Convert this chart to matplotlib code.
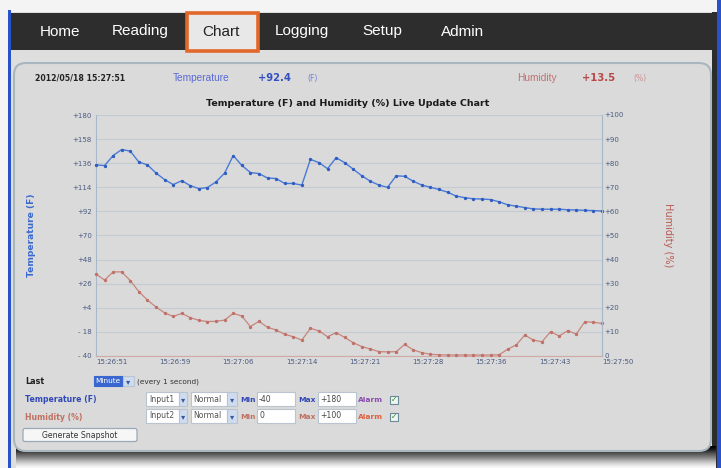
import matplotlib
matplotlib.use("Agg")
import matplotlib.pyplot as plt
import numpy as np
from matplotlib.patches import Rectangle, FancyBboxPatch

# ---------------- data ----------------
time_labels = ["15:26:51", "15:26:59", "15:27:06", "15:27:14", "15:27:21",
               "15:27:28", "15:27:36", "15:27:43", "15:27:50"]
temp_values = [134.5, 133.8, 143.0, 148.5, 147.0, 137.0, 134.5, 127.0, 121.0, 116.5,
               120.0, 115.5, 112.8, 113.8, 119.0, 127.0, 143.0, 134.0, 127.5, 126.5,
               122.5, 122.0, 117.5, 117.5, 116.0, 139.5, 136.5, 131.0, 141.0, 136.5,
               130.5, 124.5, 119.5, 116.0, 114.0, 124.5, 124.0, 119.5, 116.0, 114.0,
               112.0, 109.5, 106.0, 104.5, 103.5, 103.3, 102.8, 100.8, 98.0, 96.8,
               95.5, 94.3, 94.0, 94.0, 94.0, 93.5, 93.3, 93.0, 92.7, 92.4]
humid_values = [34.0, 31.5, 34.9, 34.9, 31.3, 26.7, 23.2, 20.3, 17.9, 16.4,
                17.7, 15.9, 14.8, 14.3, 14.4, 14.9, 17.7, 16.6, 12.2, 14.4,
                11.9, 10.8, 9.0, 8.0, 6.6, 11.5, 10.4, 8.0, 9.7, 7.7,
                5.5, 3.9, 2.9, 1.8, 1.7, 1.8, 4.8, 2.5, 1.4, 0.7,
                0.5, 0.4, 0.4, 0.4, 0.4, 0.4, 0.4, 0.5, 2.8, 4.6,
                8.7, 6.6, 5.9, 10.1, 8.3, 10.5, 9.1, 14.2, 14.0, 13.5]
temp_ticks = [-40, -18, 4, 26, 48, 70, 92, 114, 136, 158, 180]
temp_tick_labels = ["- 40", "- 18", "+4", "+26", "+48", "+70", "+92", "+114",
                    "+136", "+158", "+180"]
humid_ticks = [0, 10, 20, 30, 40, 50, 60, 70, 80, 90, 100]
humid_tick_labels = ["0", "+10", "+20", "+30", "+40", "+50", "+60", "+70",
                     "+80", "+90", "+100"]
menu_items = ["Home", "Reading", "Chart", "Logging", "Setup", "Admin"]
menu_x = [60, 140, 221, 302, 382, 463]
current_temp = "+92.4"
current_humid = "+13.5"
timestamp = "2012/05/18 15:27:51"

W, H = 721, 468
fig = plt.figure(figsize=(W / 100, H / 100), dpi=100)
fig.patch.set_facecolor("#dedede")

# ---------------- UI background layer ----------------
bg = fig.add_axes([0, 0, 1, 1], zorder=0)
bg.set_xlim(0, W)
bg.set_ylim(H, 0)
bg.axis("off")

bg.add_patch(Rectangle((0, 0), W, 12, color="#f4f4f4", lw=0))
bg.add_patch(Rectangle((0, 0), 8, H, color="#f4f4f4", lw=0))
bg.add_patch(Rectangle((8, 10), 2.5, H, color="#2a52c8", lw=0))
bg.add_patch(Rectangle((712, 12), 5, H, color="#2c2c2c", lw=0))
bg.add_patch(Rectangle((717, 0), 4, H, color="#2a52c8", lw=0))
# nav bar
bg.add_patch(Rectangle((10.5, 13), 703, 37, color="#2d2d2d", lw=0))
# Chart selected tab
bg.add_patch(Rectangle((187, 12.5), 71, 38.5, facecolor="#e8e8e8",
                       edgecolor="#e2672a", lw=2.6))
for name, x in zip(menu_items, menu_x):
    col = "#222222" if name == "Chart" else "white"
    bg.text(x, 31.5, name, color=col, fontsize=11, family="Liberation Sans",
            ha="center", va="center")

# shadow under panel (dark right below the panel, fading downward)
grad = np.linspace(0, 1, 40).reshape(-1, 1) ** 1.2
bg.imshow(grad, extent=(16, 716, 468, 446), cmap="Greys_r", vmin=0.0, vmax=1.05,
          aspect="auto", zorder=1)
# panel
panel = FancyBboxPatch((14, 63), 697, 388, boxstyle="round,pad=0,rounding_size=12",
                       facecolor="#dadada", edgecolor="#a9b6bf", lw=1.5, zorder=2)
bg.add_patch(panel)

# header row
bg.text(35, 78, timestamp, fontsize=5.6, fontweight="bold", color="#222222",
        va="center", zorder=3)
bg.text(173, 78, "Temperature", fontsize=7.3, color="#5a6ad8", va="center",
        family="Liberation Sans", zorder=3)
bg.text(258, 78, current_temp, fontsize=7.2, fontweight="bold", color="#3450c0",
        va="center", zorder=3)
bg.text(307, 78, "(F)", fontsize=5.5, color="#7080d8", va="center", zorder=3)
bg.text(517, 78, "Humidity", fontsize=7.3, color="#c07070", va="center",
        family="Liberation Sans", zorder=3)
bg.text(582, 78, current_humid, fontsize=7.2, fontweight="bold", color="#b84848",
        va="center", zorder=3)
bg.text(633, 78, "(%)", fontsize=5.5, color="#d09090", va="center", zorder=3)

# title
bg.text(348, 103, "Temperature (F) and Humidity (%) Live Update Chart",
        fontsize=6.8, fontweight="bold", color="#1a1a1a", ha="center",
        va="center", zorder=3)
# axis titles
bg.text(32, 235, "Temperature (F)", fontsize=6.6, fontweight="bold",
        color="#3a6ad0", rotation=90, ha="center", va="center", zorder=3)
bg.text(668, 235, "Humidity (%)", fontsize=7, color="#b85a50",
        rotation=270, ha="center", va="center", zorder=3)

# controls
def box(x0, y0, w, h, fc="white", ec="#b8c4d0", z=3):
    bg.add_patch(Rectangle((x0, y0), w, h, facecolor=fc, edgecolor=ec, lw=0.8, zorder=z))

def arrow(x0, y0, w, h):
    box(x0, y0, w, h, fc="#cfdcf0", ec="#b8c4d0")
    bg.text(x0 + w / 2, y0 + h / 2 + 0.5, "\u25BE", fontsize=6, color="#3a5aa0",
            ha="center", va="center", zorder=4)

bg.text(25, 382, "Last", fontsize=5.8, fontweight="bold", color="#222222",
        va="center", zorder=3)
box(94, 376, 29, 10, fc="#3a66d0", ec="#3a66d0")
bg.text(95.5, 381, "Minute", fontsize=5.3, color="white", va="center", zorder=4)
arrow(123, 376, 11, 10)
bg.text(137, 382, "(every 1 second)", fontsize=5.3, color="#333333",
        va="center", zorder=3)

rows = [(399, "Temperature (F)", "#3048b8", "Input1", "-40", "+180",
         "#3048b8", "#8a4ab0"),
        (416, "Humidity (%)", "#c07060", "Input2", "0", "+100",
         "#c07060", "#e06040")]
for y, lab, lc, inp, mn, mx, mc, ac in rows:
    bg.text(25, y + 1, lab, fontsize=5.6, fontweight="bold", color=lc,
            va="center", zorder=3)
    box(146, y - 7, 33, 14)
    bg.text(149, y, inp, fontsize=5.6, color="#555555", va="center", zorder=4)
    arrow(179, y - 7, 8, 14)
    box(191, y - 7, 36, 14)
    bg.text(193, y, "Normal", fontsize=5.6, color="#555555", va="center", zorder=4)
    arrow(227, y - 7, 10, 14)
    bg.text(240, y + 1, "Min", fontsize=5.4, fontweight="bold", color=mc,
            va="center", zorder=3)
    box(257, y - 7, 38, 14)
    bg.text(259, y, mn, fontsize=5.6, color="#444444", va="center", zorder=4)
    bg.text(298, y + 1, "Max", fontsize=5.4, fontweight="bold", color=mc,
            va="center", zorder=3)
    box(318, y - 7, 38, 14)
    bg.text(320, y, mx, fontsize=5.6, color="#444444", va="center", zorder=4)
    bg.text(358, y + 1, "Alarm", fontsize=5.4, fontweight="bold", color=ac,
            va="center", zorder=3)
    box(390, y - 3.5, 8, 8, fc="#eef6ee", ec="#6a8a9a")
    bg.text(394, y + 0.5, "\u2713", fontsize=5.5, color="#3a8a3a",
            ha="center", va="center", zorder=4)

bg.add_patch(FancyBboxPatch((23, 428.5), 114, 13, boxstyle="round,pad=0,rounding_size=2",
                            facecolor="#f6f6f6", edgecolor="#9aa8b8", lw=0.9, zorder=3))
bg.text(80, 435, "Generate Snapshot", fontsize=5.6, color="#333333",
        ha="center", va="center", zorder=4)

# ---------------- chart ----------------
x = np.arange(len(temp_values))
ax = fig.add_axes([96 / W, 1 - 356 / H, 506 / W, 241 / H], zorder=5)
ax.patch.set_alpha(0)
ax.set_xlim(0, len(temp_values) - 1)
ax.set_ylim(-40, 180)
ax.set_yticks(temp_ticks)
ax.set_yticklabels(temp_tick_labels)
ax.yaxis.grid(True, color="#c6cbd2", lw=0.9)
ax.set_axisbelow(True)
xt = np.linspace(0, len(temp_values) - 1, len(time_labels))
ax.set_xticks(xt)
ax.set_xticklabels(time_labels, ha="left")
ax.tick_params(axis="x", length=0, pad=2.5, labelsize=5, labelcolor="#4a5a80")
ax.tick_params(axis="y", length=0, pad=3, labelsize=5, labelcolor="#4a5a80")
ax.spines["top"].set_visible(False)
ax.spines["left"].set_color("#a8b8c8")
ax.spines["right"].set_color("#a8b8c8")
ax.spines["bottom"].set_color("#d2aaa4")

ax2 = ax.twinx()
ax2.patch.set_alpha(0)
ax2.set_ylim(0, 100)
ax2.set_yticks(humid_ticks)
ax2.set_yticklabels(humid_tick_labels)
ax2.tick_params(axis="y", length=0, pad=2, labelsize=5, labelcolor="#4a5a80")
ax2.spines["top"].set_visible(False)
ax2.spines["right"].set_color("#a8b8c8")
ax2.spines["left"].set_visible(False)
ax2.spines["bottom"].set_visible(False)

ax2.plot(x, humid_values, color="#c8857c", lw=0.9, marker="o", ms=1.4,
         mfc="#c07068", mec="#c07068", clip_on=False)
ax.plot(x, temp_values, color="#4a7ad8", lw=1.0, marker="o", ms=1.4,
        mfc="#2f5cc0", mec="#2f5cc0", clip_on=False, zorder=3)

fig.savefig("out.png", dpi=100, facecolor=fig.get_facecolor())
